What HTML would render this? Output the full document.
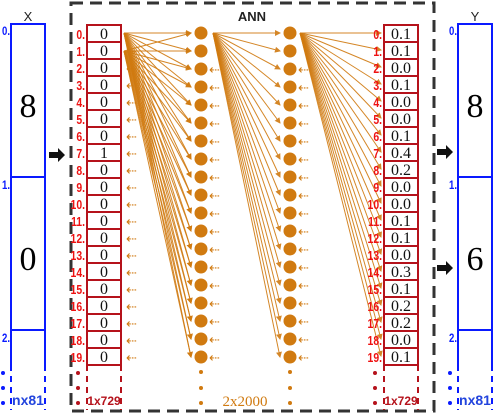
<!DOCTYPE html>
<html><head><meta charset="utf-8"><style>
body{margin:0;background:#fff;width:497px;height:418px;overflow:hidden}
svg{display:block}
</style></head><body>
<svg id="s" width="497" height="418" viewBox="0 0 497 418" xmlns="http://www.w3.org/2000/svg" font-family="Liberation Sans, sans-serif">
<defs><marker id="ah" markerWidth="6" markerHeight="6" refX="5" refY="3" orient="auto"><path d="M0,0 L6,3 L0,6 z" fill="#d07a10"/></marker></defs>
<rect x="71" y="3" width="363" height="408" fill="none" stroke="#333" stroke-width="3" stroke-dasharray="12,7"/>
<text x="252" y="21" font-size="13" text-anchor="middle" font-weight="bold" fill="#222">ANN</text>
<text x="28" y="21" font-size="13" text-anchor="middle" fill="#222">X</text>
<text x="475" y="21" font-size="13" text-anchor="middle" fill="#222">Y</text>
<g id="g"></g>
</svg>
<script>
const inputVals=["0","0","0","0","0","0","0","1","0","0","0","0","0","0","0","0","0","0","0","0"];
const outputVals=["0.1","0.1","0.0","0.1","0.0","0.0","0.1","0.4","0.2","0.0","0.0","0.1","0.1","0.0","0.3","0.1","0.2","0.2","0.0","0.1"];
const xDigits=["8","0"];
const yDigits=["8","6"];
const g=document.getElementById('g');
const NS='http://www.w3.org/2000/svg';
function mk(t,a,txt){const e=document.createElementNS(NS,t);for(const k in a)e.setAttribute(k,a[k]);if(txt!==undefined)e.textContent=txt;g.appendChild(e);return e;}
const OR='#d07a10';
function bigCol(x0,digits,nm){
  for(let i=0;i<2;i++){
    const y0=24+i*153;
    const r=mk('rect',{x:x0,y:y0,width:34,height:153,fill:'none',stroke:'#0a1aff','stroke-width':2});
    
    const t=mk('text',{x:x0+17,y:y0+93,'font-size':34,'font-family':'Liberation Serif, serif','text-anchor':'middle',fill:'#000'},digits[i]);
    
  }
  mk('line',{x1:x0,y1:330,x2:x0+34,y2:330,stroke:'#0a1aff','stroke-width':2});
  mk('line',{x1:x0,y1:330,x2:x0,y2:365,stroke:'#0a1aff','stroke-width':2});
  mk('line',{x1:x0+34,y1:330,x2:x0+34,y2:365,stroke:'#0a1aff','stroke-width':2});
  mk('line',{x1:x0,y1:365,x2:x0,y2:410,stroke:'#0a1aff','stroke-width':2,'stroke-dasharray':'6,5'});
  mk('line',{x1:x0+34,y1:365,x2:x0+34,y2:410,stroke:'#0a1aff','stroke-width':2,'stroke-dasharray':'6,5'});
  ['0.','1.','2.'].forEach((l,i)=>{const t=mk('text',{x:x0-1,y:[35,189,342][i],'font-size':12,'font-weight':'bold',fill:'#0a1aff','text-anchor':'end',transform:`scale(0.8,1)`,},l);t.setAttribute('x',(x0-1)/0.8);});
  [373,388,403].forEach(y=>mk('circle',{cx:x0-8,cy:y,r:2,fill:'#0a1aff'}));
  const t=mk('text',{x:x0+17,y:405,'font-size':14,'font-weight':'bold',fill:'#2244dd','text-anchor':'middle'},'nx81');
  
}
bigCol(11,xDigits,'x-column');
bigCol(458,yDigits,'y-column');
function arrow(x,y,nm){const p=mk('path',{d:`M${x},${y-3} h9 v-4 l7,7 l-7,7 v-4 h-9 z`,fill:'#111'});}
arrow(49,155,'arrow-x-to-ann');arrow(437,152,'arrow-ann-to-y0');arrow(437,268,'arrow-ann-to-y1');
const rowY=i=>25+i*17;
const nodeY=i=>33+i*18;
const N=19;
function fan(x1,y1,x2,ys,nm){ys.forEach((y,j)=>{const l=mk('line',{x1,y1,x2,y2:y,stroke:OR,'stroke-width':1,'marker-end':'url(#ah)',opacity:0.9});});}
const nys=[...Array(N).keys()].map(nodeY);
fan(124,33,191,nys,'conn-in0-h1');
fan(124,51,191,nys,'conn-in1-h1');
fan(213,33,280,nys,'conn-h1-h2');
fan(300,33,381,inputVals.map((_,i)=>rowY(i)+8),'conn-h2-out');
function vec(x0,vals,nm){
  vals.forEach((v,i)=>{
    const r=mk('rect',{x:x0,y:rowY(i),width:34,height:17,fill:'#fff',stroke:'#b5121b','stroke-width':2});
    
    const t=mk('text',{x:x0+17,y:rowY(i)+14,'font-size':16,'font-family':'Liberation Serif, serif','text-anchor':'middle',fill:'#111'},v);
    
    const l=mk('text',{x:(x0-2)/0.8,y:rowY(i)+14,'font-size':13,'font-weight':'bold',fill:'#ee1111','text-anchor':'end',transform:'scale(0.8,1)'},i+'.');
    
  });
  mk('line',{x1:x0,y1:365,x2:x0,y2:410,stroke:'#b5121b','stroke-width':2,'stroke-dasharray':'6,5'});
  mk('line',{x1:x0+34,y1:365,x2:x0+34,y2:410,stroke:'#b5121b','stroke-width':2,'stroke-dasharray':'6,5'});
  [373,388,403].forEach(y=>mk('circle',{cx:x0-9,cy:y,r:2,fill:'#b5121b'}));
  const t=mk('text',{x:x0+17,y:405,'font-size':12,'font-weight':'bold',fill:'#b5121b','text-anchor':'middle'},'1x729');
  
}
vec(87,inputVals,'input-vector');
vec(384,outputVals,'output-vector');
inputVals.forEach((_,i)=>{if(i>0){const t=mk('text',{x:126,y:rowY(i)+14,'font-size':13,fill:OR},'⇠');}});
[201,290].forEach((cx,L)=>{
  nys.forEach((y,i)=>{
    const c=mk('circle',{cx,cy:y,r:6.5,fill:OR});
    
    if(i>=2){const t=mk('text',{x:cx+8,y:y+5,'font-size':13,fill:OR},'⇠');}
  });
  [372,388,403].forEach(y=>mk('circle',{cx,cy:y,r:2,fill:OR}));
});
const t=mk('text',{x:245,y:406,'font-size':15,'font-family':'Liberation Serif, serif',fill:OR,'text-anchor':'middle'},'2x2000');

</script>
</body></html>
